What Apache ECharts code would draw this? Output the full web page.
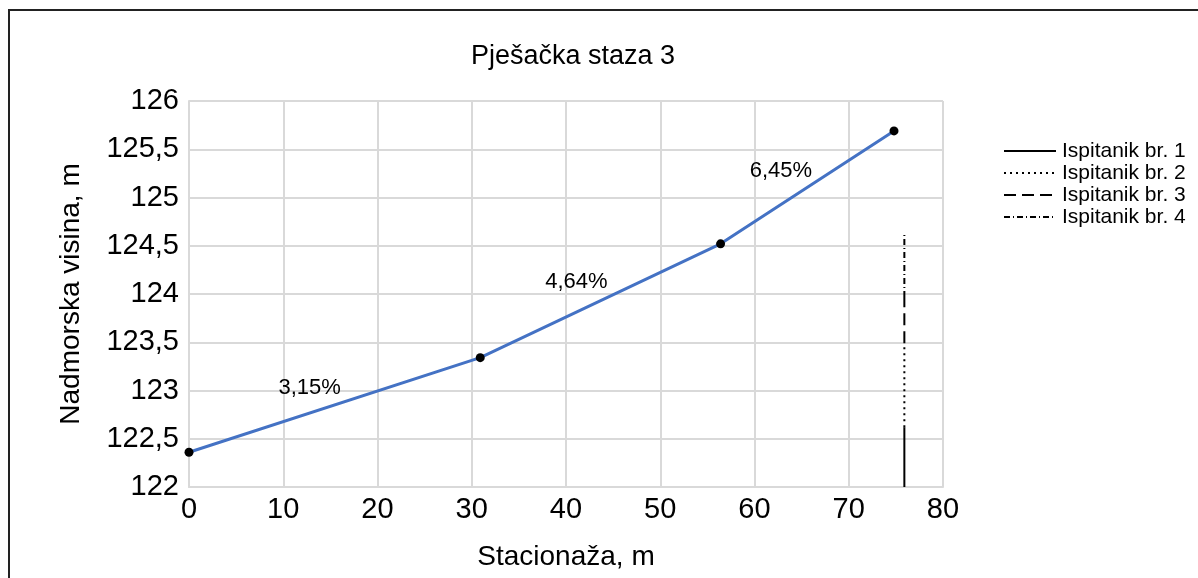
<!DOCTYPE html>
<html>
<head>
<meta charset="utf-8">
<script src="https://cdn.jsdelivr.net/npm/echarts@6/dist/echarts.min.js"></script>
<style>
  html, body { margin: 0; padding: 0; background: #fff; }
  #main { width: 1198px; height: 578px; }
</style>
</head>
<body>
<div id="main"></div>
<script>
// profil staze: stacionaza (m) i nadmorska visina (m)
var stacionaza = [0, 30.9, 56.4, 74.8];
var visina = [122.36, 123.34, 124.52, 125.69];

// nagibi dionica i gdje stoje natpisi
var nagibi = ['3,15%', '4,64%', '6,45%'];
var nagibX = [12.8, 41.1, 62.8];
var nagibY = [123.03, 124.13, 125.28];

// ispitanici - okomite crte na kraju staze
var ispitanici = ['Ispitanik br. 1', 'Ispitanik br. 2', 'Ispitanik br. 3', 'Ispitanik br. 4'];
var ispX = 75.9;
var ispOd = [122, 122.62, 123.49, 123.97];
var ispDo = [122.62, 123.49, 123.97, 124.64];
var ispTip = ['solid', [2, 4], [12, 6], [6, 3, 1, 3]];

var font = '"Liberation Sans", Arial, sans-serif';

var myChart = echarts.init(document.getElementById('main'));

var series = [];
series.push({
    name: 'profil',
    type: 'line',
    data: stacionaza.map(function (x, i) { return [x, visina[i]]; }),
    symbol: 'circle',
    symbolSize: 9,
    itemStyle: {color: '#000'},
    lineStyle: {color: '#4472C4', width: 3},
    z: 5
});
series.push({
    name: 'nagibi',
    type: 'scatter',
    symbolSize: 1,
    itemStyle: {color: 'rgba(0,0,0,0)', opacity: 1},
    data: nagibX.map(function (x, i) { return [x, nagibY[i], nagibi[i]]; }),
    label: {
        show: true,
        position: 'inside',
        formatter: function (p) { return p.data[2]; },
        fontFamily: font,
        fontSize: 22,
        color: '#000'
    },
    silent: true
});
ispitanici.forEach(function (ime, i) {
    series.push({
        name: ime,
        type: 'line',
        symbol: 'none',
        data: [[ispX, ispOd[i]], [ispX, ispDo[i]]],
        lineStyle: {color: '#000', width: 2, type: ispTip[i]},
        itemStyle: {color: '#000'}
    });
});

var option = {
    animation: false,
    backgroundColor: '#fff',
    graphic: [{
        type: 'rect',
        shape: {x: 9, y: 10, width: 1220, height: 600},
        style: {fill: 'none', stroke: '#222', lineWidth: 2},
        silent: true
    }],
    title: {
        text: 'Pješačka staza 3',
        left: 568,
        textAlign: 'center',
        top: 38,
        textStyle: {fontFamily: font, fontSize: 27, fontWeight: 'normal', color: '#000'}
    },
    legend: {
        data: ispitanici,
        orient: 'vertical',
        left: 998,
        top: 135,
        itemWidth: 52,
        itemHeight: 12,
        itemGap: 0,
        itemStyle: {opacity: 0},
        textStyle: {fontFamily: font, fontSize: 21, lineHeight: 22, color: '#000', padding: [0, 0, 0, 1]}
    },
    grid: {left: 189, right: 255, top: 101, bottom: 91},
    xAxis: {
        type: 'value',
        min: 0,
        max: 80,
        interval: 10,
        name: 'Stacionaža, m',
        nameLocation: 'middle',
        nameGap: 56,
        nameTextStyle: {fontFamily: font, fontSize: 28, color: '#000'},
        axisLine: {lineStyle: {color: '#d9d9d9', width: 2}},
        axisTick: {show: false},
        axisLabel: {fontFamily: font, fontSize: 29, color: '#000', margin: 8},
        splitLine: {lineStyle: {color: '#d9d9d9', width: 2}}
    },
    yAxis: {
        type: 'value',
        min: 122,
        max: 126,
        interval: 0.5,
        name: 'Nadmorska visina, m',
        nameLocation: 'middle',
        nameGap: 104,
        nameTextStyle: {fontFamily: font, fontSize: 28, color: '#000'},
        axisLine: {show: true, lineStyle: {color: '#d9d9d9', width: 2}},
        axisTick: {show: false},
        axisLabel: {
            fontFamily: font, fontSize: 29, color: '#000', margin: 10,
            formatter: function (v) { return String(v).replace('.', ','); }
        },
        splitLine: {lineStyle: {color: '#d9d9d9', width: 2}}
    },
    series: series
};

myChart.setOption(option);
</script>
</body>
</html>
